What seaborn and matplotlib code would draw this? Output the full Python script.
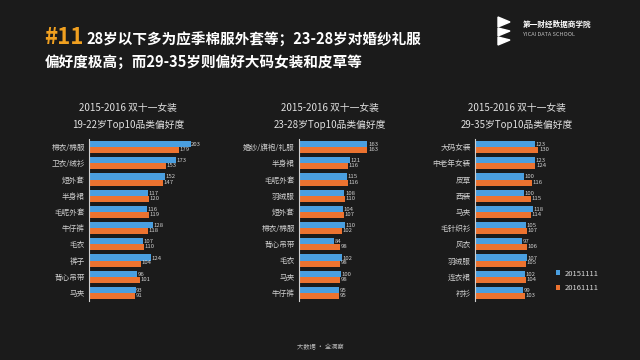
import pandas as pd
import matplotlib.pyplot as plt
from matplotlib.patches import Polygon
import seaborn as sb

sb.set_style('dark')
plt.rcParams['font.family'] = ['Noto Sans CJK SC', 'DejaVu Sans']

BG = '#1b1b1b'
BLUE = '#4a9fe0'
ORANGE = '#ec7330'
years = ['20151111', '20161111']

# === DATA ===
cat_1922 = ['棉衣/棉服', '卫衣/绒衫', '短外套', '半身裙', '毛呢外套', '牛仔裤', '毛衣', '裤子', '背心吊带', '马夹']
v2015_1922 = [203, 173, 152, 117, 116, 128, 107, 124, 96, 93]
v2016_1922 = [179, 153, 147, 120, 119, 118, 110, 104, 101, 91]

cat_2328 = ['婚纱/旗袍/礼服', '半身裙', '毛呢外套', '羽绒服', '短外套', '棉衣/棉服', '背心吊带', '毛衣', '马夹', '牛仔裤']
v2015_2328 = [163, 121, 115, 108, 104, 110, 84, 102, 100, 95]
v2016_2328 = [163, 116, 116, 110, 107, 102, 98, 98, 98, 95]

cat_2935 = ['大码女装', '中老年女装', '皮草', '西装', '马夹', '毛针织衫', '风衣', '羽绒服', '连衣裙', '衬衫']
v2015_2935 = [123, 123, 100, 100, 118, 105, 97, 107, 102, 99]
v2016_2935 = [130, 124, 116, 115, 114, 107, 106, 105, 104, 103]

panels = [
    ('19-22岁Top10品类偏好度', cat_1922, v2015_1922, v2016_1922),
    ('23-28岁Top10品类偏好度', cat_2328, v2015_2328, v2016_2328),
    ('29-35岁Top10品类偏好度', cat_2935, v2015_2935, v2016_2935),
]

# axes placement in pixels: left, width, xmax, title centre
boxes = [(89, 110, 220, 128), (299, 84, 200, 330), (475, 78, 160, 517)]

W, H = 640, 360
fig = plt.figure(figsize=(6.4, 3.6), dpi=100, facecolor=BG)


def px(x, y):
    return x / W, 1 - y / H


for (sub, cats, a, b), (left, width, xmax, cx) in zip(panels, boxes):
    df = pd.DataFrame({'cat': cats * 2, 'val': a + b,
                       'year': [years[0]] * len(cats) + [years[1]] * len(cats)})
    ax = fig.add_axes([left / W, 1 - 301 / H, width / W, 162 / H])
    ax.set_facecolor(BG)
    sb.barplot(data=df, y='cat', x='val', hue='year', hue_order=years,
               palette=[BLUE, ORANGE], orient='h', width=0.76, ax=ax,
               legend=(sub.startswith('29')), saturation=1, linewidth=0)
    # value labels meet at the seam between the two bars of a pair
    for i, cont in enumerate(ax.containers):
        for p in cont:
            if i == 0:
                y, va = p.get_y() + p.get_height(), 'bottom'
            else:
                y, va = p.get_y(), 'top'
            ax.text(p.get_width() + 1.5, y, f'{p.get_width():.0f}', fontsize=4.3,
                    color='#d0d0d0', ha='left', va=va)
    ax.set_xlim(0, xmax)
    ax.set_xlabel('')
    ax.set_ylabel('')
    ax.set_xticks([])
    ax.tick_params(axis='y', length=0, pad=3, labelsize=5.5, labelcolor='#d0d0d0')
    for s in ['top', 'right', 'bottom']:
        ax.spines[s].set_visible(False)
    ax.spines['left'].set_color('#cfcfcf')
    ax.spines['left'].set_linewidth(0.8)
    ax.grid(False)
    fig.text(*px(cx, 108), '2015-2016 双十一女装', color='#e0e0e0', fontsize=7,
             ha='center', va='center')
    fig.text(*px(cx, 125), sub, color='#e0e0e0', fontsize=7, ha='center', va='center')
    if ax.get_legend() is not None:
        ax.legend(loc='center left', bbox_to_anchor=px(549, 281),
                  bbox_transform=fig.transFigure, frameon=False, fontsize=5.5,
                  labelcolor='#d8d8d8', handlelength=0.6, handleheight=0.6,
                  handletextpad=0.5, labelspacing=0.9)

# header
fig.text(*px(44, 38), '#11', color='#f0a020', fontsize=16, fontweight='bold',
         ha='left', va='center')
fig.text(*px(86, 40), '28岁以下多为应季棉服外套等；23-28岁对婚纱礼服', color='white',
         fontsize=10.5, fontweight='bold', ha='left', va='center')
fig.text(*px(45, 62), '偏好度极高；而29-35岁则偏好大码女装和皮草等', color='white',
         fontsize=10.5, fontweight='bold', ha='left', va='center')

# logo
for tri in [[(498, 17), (510, 22), (498, 27)], [(498, 28), (510, 31), (498, 36)],
            [(498, 37), (510, 40), (498, 45)]]:
    fig.patches.append(Polygon([px(x, y) for x, y in tri], closed=True, color='white',
                               transform=fig.transFigure, figure=fig))
fig.text(*px(523, 24), '第一财经数据商学院', color='white', fontsize=5.5,
         fontweight='bold', ha='left', va='center')
fig.text(*px(523, 34), 'YICAI DATA SCHOOL', color='#bbbbbb', fontsize=4,
         ha='left', va='center')

# footer
fig.text(*px(320, 347), '大数据 · 全洞察', color='#bbbbbb', fontsize=4.5,
         ha='center', va='center')

fig.savefig('out.png', dpi=100, facecolor=BG)
